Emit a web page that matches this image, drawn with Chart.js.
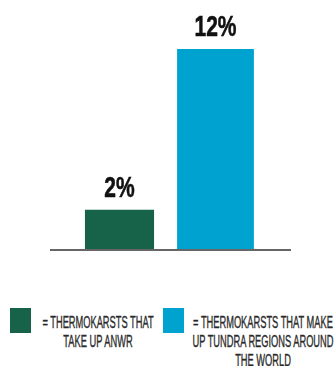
<!DOCTYPE html>
<html>
<head>
<meta charset="utf-8">
<script src="https://cdn.jsdelivr.net/npm/chart.js@4"></script>
<style>
  body { margin: 0; background: #fff; width: 334px; height: 366px; overflow: hidden; position: relative; }
  #chart { position: absolute; left: 0; top: 0; }
  .swatch { position: absolute; width: 21px; height: 25px; }
  .legendText {
    position: absolute; width: 260px; text-align: center;
    font-family: "Liberation Sans", Arial, sans-serif; font-size: 16px; line-height: 19px;
    color: #2a2a2a; -webkit-text-stroke: 0.35px #2a2a2a;
    transform: scaleX(0.58); transform-origin: center top; white-space: nowrap;
  }
</style>
</head>
<body>
<canvas id="chart" width="334" height="260"></canvas>
<div id="legend"></div>
<script>
const categories = ['ANWR', 'Tundra regions around the world'];
const values = [2, 12];
const colors = ['#17634a', '#00a3cf'];
const legendLines = [
    ['= THERMOKARSTS THAT', 'TAKE UP ANWR'],
    ['= THERMOKARSTS THAT MAKE', 'UP TUNDRA REGIONS AROUND', 'THE WORLD']
];

// bar widths differ a little in the original
const barPct = [0.72, 0.8];

const datasets = values.map((v, i) => ({
    label: legendLines[i].join(' '),
    data: values.map((_, j) => (j === i ? v : null)),
    backgroundColor: colors[i],
    barPercentage: barPct[i],
    categoryPercentage: 1,
    base: -0.5
}));

// percent labels over the bars, drawn a bit condensed
const valueLabels = {
    id: 'valueLabels',
    afterDatasetsDraw(chart) {
        const ctx = chart.ctx;
        chart.data.datasets.forEach((ds, i) => {
            chart.getDatasetMeta(i).data.forEach((el, j) => {
                const v = ds.data[j];
                if (v == null) return;
                ctx.save();
                ctx.translate(el.x, el.y - 13);
                ctx.scale(0.7, 1);
                ctx.font = 'bold 30px "Liberation Sans", Arial, sans-serif';
                ctx.fillStyle = '#111';
                ctx.strokeStyle = '#111';
                ctx.lineWidth = 0.6;
                ctx.textAlign = 'center';
                ctx.textBaseline = 'alphabetic';
                ctx.fillText(v + '%', 0, 0);
                ctx.strokeText(v + '%', 0, 0);
                ctx.restore();
            });
        });
    }
};

// baseline runs a little past the bars on both sides
const baseline = {
    id: 'baseline',
    afterDatasetsDraw(chart) {
        const a = chart.chartArea;
        const ctx = chart.ctx;
        ctx.save();
        ctx.strokeStyle = '#666';
        ctx.lineWidth = 2;
        ctx.beginPath();
        ctx.moveTo(a.left - 21.5, a.bottom);
        ctx.lineTo(a.right + 27.5, a.bottom);
        ctx.stroke();
        ctx.restore();
    }
};

new Chart(document.getElementById('chart').getContext('2d'), {
    type: 'bar',
    data: { labels: categories, datasets: datasets },
    options: {
        responsive: false,
        animation: false,
        grouped: false,
        layout: { padding: { left: 71.5, right: 70.5, top: 49, bottom: 10 } },
        plugins: { legend: { display: false }, tooltip: { enabled: false } },
        scales: {
            x: { display: false },
            y: { display: false, min: -0.5, max: 12 }
        }
    },
    plugins: [valueLabels, baseline]
});

// legend under the chart
const legend = document.getElementById('legend');
const swatchLeft = [10, 163];
const textCenter = [97.5, 263];
legendLines.forEach((lines, i) => {
    const sw = document.createElement('div');
    sw.className = 'swatch';
    sw.style.left = swatchLeft[i] + 'px';
    sw.style.top = '308px';
    sw.style.background = colors[i];
    legend.appendChild(sw);

    const txt = document.createElement('div');
    txt.className = 'legendText';
    txt.style.left = (textCenter[i] - 130) + 'px';
    txt.style.top = '313px';
    txt.innerHTML = lines.join('<br>');
    legend.appendChild(txt);
});
</script>
</body>
</html>
